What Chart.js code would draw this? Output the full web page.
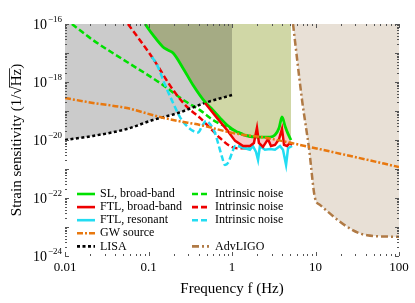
<!DOCTYPE html>
<html>
<head>
<meta charset="utf-8">
<script src="https://cdn.jsdelivr.net/npm/chart.js@4.4.1/dist/chart.umd.min.js"></script>
<style>
  html, body { margin: 0; padding: 0; background: #fff; }
  #wrap { width: 415px; height: 303px; }
</style>
</head>
<body>
<div id="wrap"><canvas id="chart" width="415" height="303"></canvas></div>
<script>
"use strict";
// frequency (Hz) and strain sensitivity (1/sqrt(Hz))

const lisaF = [0.01, 0.0216, 0.055, 0.113, 0.225, 0.475, 1.0];
const lisaH = [1.0e-20, 1.38e-20, 2.4e-20, 4.9e-20, 8.5e-20, 1.9e-19, 3.55e-19];

const gwF = [0.01, 0.0216, 0.055, 0.137, 0.22, 0.414, 1.03, 2.62, 6.5, 23.7, 100];
const gwH = [2.8e-19, 1.9e-19, 1.26e-19, 6.2e-20, 4.6e-20, 3.3e-20, 1.74e-20, 1.17e-20, 6.8e-21, 3.0e-21, 1.17e-21];

const advF = [5.38, 6.9, 8.36, 9.87, 11.3, 41.4, 100];
const advH = [1e-16, 2.4e-19, 5.2e-21, 1e-22, 5.8e-23, 5.2e-24, 4.6e-24];

const slF = [0.0908, 0.113, 0.149, 0.171, 0.197, 0.259, 0.341, 0.475, 0.592, 0.718, 0.871, 1.15, 1.51, 2.05, 2.85, 3.27, 3.66, 3.97, 4.32, 4.69, 5.09];
const slH = [1e-16, 4.2e-17, 1.62e-17, 1.26e-17, 1.0e-17, 3.0e-18, 7.9e-19, 2.05e-19, 1.07e-19, 5.8e-20, 3.3e-20, 1.9e-20, 1.38e-20, 1.26e-20, 1.26e-20, 1.48e-20, 2.6e-20, 6.2e-20, 3.0e-20, 1.62e-20, 1.0e-20];

const slNoiseF = [0.0121, 0.0216, 0.0553, 0.137, 0.273, 0.414, 0.592, 0.871, 1.25, 1.74];
const slNoiseH = [1e-16, 2.8e-17, 4.9e-18, 9.3e-19, 2.2e-19, 1.07e-19, 4.9e-20, 2.8e-20, 1.74e-20, 1.26e-20];

const ftlF = [0.475, 0.661, 0.871, 1.09, 1.36, 1.64, 1.83, 1.99, 2.10, 2.35, 2.70, 2.93, 3.27, 3.66, 3.97, 4.20, 4.56, 4.95, 5.24];
const ftlH = [1.9e-19, 5.8e-20, 2.2e-20, 9.3e-21, 6.2e-21, 6.2e-21, 7.9e-21, 2.6e-20, 7.9e-21, 5.8e-21, 1.07e-20, 6.2e-21, 6.8e-21, 1.07e-20, 2.4e-20, 6.8e-21, 6.2e-21, 7.9e-21, 6.8e-21];

const ftlNoiseF = [0.0568, 0.110, 0.197, 0.289, 0.414, 0.546, 0.718, 0.946, 1.15, 1.64];
const ftlNoiseH = [1e-16, 7.3e-18, 5.3e-19, 1.38e-19, 5.8e-20, 2.6e-20, 1.17e-20, 6.2e-21, 5.2e-21, 5.2e-21];

const resF = [1.18, 1.43, 1.64, 1.78, 1.94, 2.05, 2.16, 2.48, 2.85, 3.27, 3.76, 4.08, 4.44, 4.69, 5.24];
const resH = [6.2e-21, 5.2e-21, 4.6e-21, 6.2e-21, 3.9e-21, 2.05e-21, 6.2e-21, 4.6e-21, 4.9e-21, 4.6e-21, 6.2e-21, 4.6e-21, 1.38e-21, 5.2e-21, 6.2e-21];

const resNoiseF = [0.110, 0.1265, 0.158, 0.197, 0.238, 0.289, 0.341, 0.392, 0.438, 0.489, 0.546, 0.626, 0.680, 0.759, 0.824, 0.896, 1.0, 1.09, 1.25, 1.64];
const resNoiseH = [7.3e-18, 3.9e-18, 7.9e-19, 1.9e-19, 6.2e-20, 3.0e-20, 2.05e-20, 1.82e-20, 3.0e-20, 4.6e-20, 3.55e-20, 1.74e-20, 7.9e-21, 2.6e-21, 1.38e-21, 1.62e-21, 3.55e-21, 6.2e-21, 6.2e-21, 5.2e-21];

const xTickValues = [0.01, 0.1, 1, 10, 100];
const xTickLabels = ["0.01", "0.1", "1", "10", "100"];
const yTickExps = [-16, -18, -20, -22, -24];

const legendLeft = ["SL, broad-band", "FTL, broad-band", "FTL, resonant", "GW source", "LISA"];
const legendRight = ["Intrinsic noise", "Intrinsic noise", "Intrinsic noise", "", "AdvLIGO"];

const FONT = '"Liberation Serif", "Times New Roman", serif';
const GREEN = "#00e000";
const RED = "#ee0000";
const CYAN = "#22dcf2";
const ORANGE = "#e8780f";
const BROWN = "#b07a45";

function pts(fs, hs) {
  return fs.map((f, i) => ({ x: f, y: hs[i] }));
}

function fillSet(fs, hs, color, order, fill) {
  return {
    data: pts(fs, hs),
    borderWidth: 0,
    borderColor: "transparent",
    backgroundColor: color,
    pointRadius: 0,
    fill: fill,
    order: order,
    cubicInterpolationMode: "monotone",
  };
}

function lineSet(fs, hs, color, dash, order, smooth) {
  return {
    data: pts(fs, hs),
    borderWidth: 2.5,
    borderColor: color,
    borderDash: dash,
    borderCapStyle: "butt",
    pointRadius: 0,
    fill: false,
    order: order,
    cubicInterpolationMode: smooth ? "monotone" : "default",
    tension: 0,
  };
}

const datasets = [
  fillSet(advF, advH, "#e8e0d6", 20, "end"),               // 0
  fillSet(lisaF, lisaH, "#cbcbcb", 19, "end"),             // 1
  fillSet(slF, slH, "#d0d7a6", 18, "end"),                 // 2 (multiply)
  fillSet(ftlF, ftlH, "#fac8c8", 17, { target: 2, above: "#fac8c8", below: "#fac8c8" }), // 3
  lineSet(gwF, gwH, ORANGE, [6, 2, 2, 2], 0, true),        // 4
  lineSet(advF, advH, BROWN, [7, 3, 2, 3], 5, true),       // 5
  lineSet(lisaF, lisaH, "#000", [3, 2.5], 4, true),        // 6
  lineSet(slNoiseF, slNoiseH, GREEN, [6, 3], 9, true),     // 7
  lineSet(ftlNoiseF, ftlNoiseH, RED, [6, 3], 8, true),     // 8
  lineSet(resNoiseF, resNoiseH, CYAN, [6, 3], 7, true),    // 9
  lineSet(resF, resH, CYAN, [], 3, false),                 // 10
  lineSet(ftlF, ftlH, RED, [], 1, false),                  // 11
  lineSet(slF, slH, GREEN, [], 2, true),                   // 12
];
datasets[12].borderWidth = 2.8;

const leftKeys = [12, 11, 10, 4, 6];
const rightKeys = [7, 8, 9, null, 5];

// darker overlap where the SL region covers the LISA region
const blendPlugin = {
  id: "blend",
  afterDatasetDraw(chart, args) {
    if (args.index === 1) chart.ctx.globalCompositeOperation = "multiply";
    if (args.index === 2) chart.ctx.globalCompositeOperation = "source-over";
  },
};

const decorPlugin = {
  id: "decor",
  afterDatasetsDraw(chart) {
    const { ctx, chartArea: a, scales } = chart;
    const x = scales.x, y = scales.y;
    ctx.save();
    ctx.strokeStyle = "#555";
    ctx.lineWidth = 1;
    ctx.beginPath();
    for (let e = -2; e <= 2; e++) {
      for (let m = 1; m < 10; m++) {
        if (e === 2 && m > 1) break;
        const px = Math.round(x.getPixelForValue(m * Math.pow(10, e))) + 0.5;
        const L = m === 1 ? 4 : 2;
        ctx.moveTo(px, a.top); ctx.lineTo(px, a.top + L);
        ctx.moveTo(px, a.bottom); ctx.lineTo(px, a.bottom - L);
      }
    }
    for (let e = -24; e <= -16; e++) {
      for (let m = 1; m < 10; m++) {
        if (e === -16 && m > 1) break;
        const py = Math.round(y.getPixelForValue(m * Math.pow(10, e))) + 0.5;
        const L = m === 1 ? 4 : 2;
        ctx.moveTo(a.left, py); ctx.lineTo(a.left + L, py);
        ctx.moveTo(a.right, py); ctx.lineTo(a.right - L, py);
      }
    }
    ctx.stroke();
    ctx.restore();
  },
  afterDraw(chart) {
    const { ctx, chartArea: a, scales } = chart;
    const y = scales.y;
    ctx.save();
    ctx.fillStyle = "#000";

    // y tick labels with superscript exponents
    ctx.textBaseline = "alphabetic";
    yTickExps.forEach((e) => {
      const py = y.getPixelForValue(Math.pow(10, e));
      const sup = "\u2212" + Math.abs(e);
      ctx.font = "9px " + FONT;
      const wSup = ctx.measureText(sup).width;
      ctx.font = "14px " + FONT;
      const wBase = ctx.measureText("10").width;
      const right = a.left - 3;
      ctx.fillText("10", right - wSup - wBase - 1, py + 5);
      ctx.font = "9px " + FONT;
      ctx.fillText(sup, right - wSup, py - 2);
    });

    // y axis title with radical
    ctx.save();
    ctx.translate(17, (a.top + a.bottom) / 2);
    ctx.rotate(-Math.PI / 2);
    ctx.font = "15px " + FONT;
    ctx.textBaseline = "middle";
    const parts = ["Strain sensitivity (1/", "\u221A", "Hz", ")"];
    const widths = parts.map((p) => ctx.measureText(p).width);
    const total = widths.reduce((s, w) => s + w, 0);
    let cx = -total / 2;
    const starts = [];
    parts.forEach((p, i) => {
      starts.push(cx);
      ctx.fillText(p, cx, 0);
      cx += widths[i];
    });
    ctx.lineWidth = 0.8;
    ctx.beginPath();
    ctx.moveTo(starts[1] + widths[1] * 0.85, -7.5);
    ctx.lineTo(starts[2] + widths[2] + 0.5, -7.5);
    ctx.stroke();
    ctx.restore();

    // legend, two columns inside the plot
    ctx.font = "12px " + FONT;
    ctx.textBaseline = "middle";
    const rowY = (i) => a.bottom - 62 + i * 13.1;
    const drawKey = (dsIndex, x0, x1, yy) => {
      const ds = chart.data.datasets[dsIndex];
      ctx.save();
      ctx.strokeStyle = ds.borderColor;
      ctx.lineWidth = 2.6;
      ctx.setLineDash(ds.borderDash.length ? ds.borderDash : []);
      ctx.beginPath();
      ctx.moveTo(x0, yy);
      ctx.lineTo(x1, yy);
      ctx.stroke();
      ctx.restore();
    };
    legendLeft.forEach((label, i) => {
      const yy = rowY(i);
      drawKey(leftKeys[i], a.left + 12, a.left + 30, yy);
      ctx.fillText(label, a.left + 35, yy);
    });
    legendRight.forEach((label, i) => {
      if (rightKeys[i] === null) return;
      const yy = rowY(i);
      drawKey(rightKeys[i], a.left + 127, a.left + 144, yy);
      ctx.fillText(label, a.left + 150, yy);
    });
    ctx.restore();
  },
};

new Chart(document.getElementById("chart"), {
  type: "line",
  data: { datasets: datasets },
  options: {
    responsive: false,
    animation: false,
    devicePixelRatio: 1,
    layout: { padding: { top: 24, right: 16, left: 0, bottom: 0 } },
    scales: {
      x: {
        type: "logarithmic",
        min: 0.01,
        max: 100,
        grid: { display: false, drawTicks: false },
        border: { display: false },
        afterFit: (s) => { s.height = 47; },
        ticks: {
          autoSkip: false,
          maxRotation: 0,
          minRotation: 0,
          padding: 4,
          color: "#000",
          font: { family: FONT, size: 13 },
          callback: function (value) {
            const i = xTickValues.findIndex((v) => Math.abs(Math.log10(v) - Math.log10(value)) < 1e-6);
            return i >= 0 ? xTickLabels[i] : "";
          },
        },
        title: {
          display: true,
          text: "Frequency f (Hz)",
          color: "#000",
          font: { family: FONT, size: 15 },
          padding: { top: 0, bottom: 5 },
        },
      },
      y: {
        type: "logarithmic",
        min: 1e-24,
        max: 1e-16,
        grid: { display: false, drawTicks: false },
        border: { display: false },
        ticks: { display: false },
        afterFit: (s) => { s.width = 65; },
      },
    },
    plugins: {
      legend: { display: false },
      tooltip: { enabled: false },
    },
  },
  plugins: [blendPlugin, decorPlugin],
});
</script>
</body>
</html>
